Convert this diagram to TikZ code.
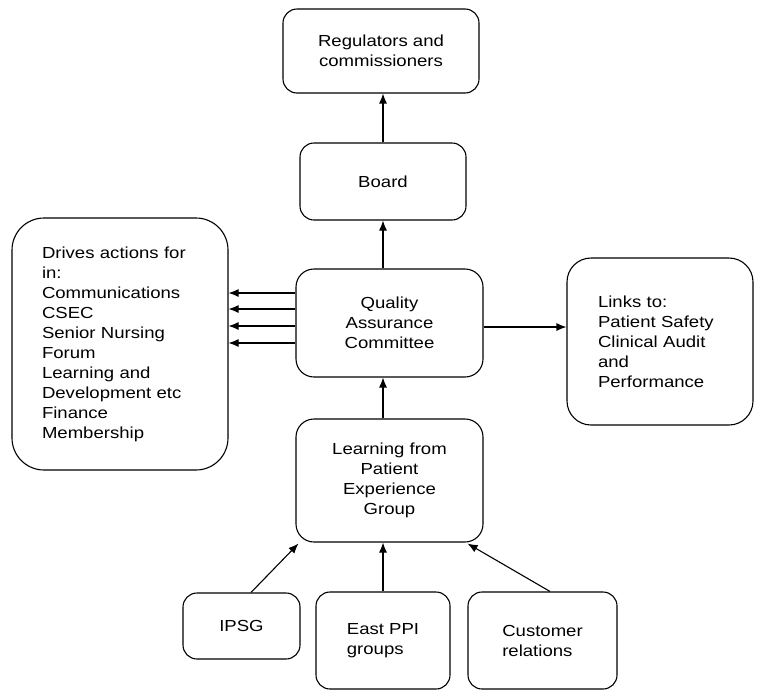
\documentclass[tikz,border=0pt]{standalone}
\usepackage{fontspec}
\setmainfont{Liberation Sans}[FakeStretch=1.16]
\usetikzlibrary{arrows.meta}
\usetikzlibrary{calc}
\tikzset{
  box/.style={draw, line width=1.1pt, rounded corners=14pt, inner sep=0pt, align=center,
    font=\fontsize{16}{20}\selectfont},
  arr/.style={line width=1.1pt, -{Latex[length=10pt,width=8pt]}}
}

\begin{document}
\begin{tikzpicture}[x=1pt,y=-1pt]
    \useasboundingbox (0,0) rectangle (757,691);

    \node[box, minimum width=196pt, minimum height=84pt] (reg) at (381,51) {Regulators and\\commissioners};
    \node[box, minimum width=166pt, minimum height=77pt] (board) at (383,181.5) {Board};
    \node[box, rounded corners=18pt, minimum width=187pt, minimum height=108pt] (qa) at (389.5,323) {Quality\\Assurance\\Committee};
    \node[box, rounded corners=32pt, align=left, text width=156pt, minimum width=216pt, minimum height=252pt] (drives) at (120,344)
      {Drives actions for\\in:\\Communications\\CSEC\\Senior Nursing\\Forum\\Learning and\\Development etc\\Finance\\Membership};
    \node[box, rounded corners=24pt, align=left, text width=124pt, minimum width=186pt, minimum height=167pt] (links) at (660,341.5)
      {Links to:\\Patient Safety\\Clinical Audit\\and\\Performance};
    \node[box, rounded corners=18pt, minimum width=187pt, minimum height=123pt] (lfpe) at (389.5,480.5) {Learning from\\Patient\\Experience\\Group};
    \node[box, minimum width=117pt, minimum height=66pt] (ipsg) at (241.5,626) {IPSG};
    \node[box, align=left, minimum width=134pt, minimum height=97pt] (east) at (383,640.5) {East PPI\\groups};
    \node[box, align=left, minimum width=149pt, minimum height=97pt] (cust) at (542.5,640.5) {Customer\\relations};

    \draw[arr] (board.north) -- (board.north |- reg.south);
    \draw[arr] (board.south |- qa.north) -- (board.south);
    \draw[arr] (board.south |- lfpe.north) -- (board.south |- qa.south);
    \foreach \y in {293,309,326,343}
      \draw[arr] (qa.west |- 0,\y) -- (drives.east |- 0,\y);
    \draw[arr] (qa.east |- 0,327) -- (links.west |- 0,327);

    \draw[arr] ($(ipsg.north)+(9.5,0)$) -- ($(lfpe.south west)+(3,1)$);
    \draw[arr] (east.north) -- (east.north |- lfpe.south);
    \draw[arr] ($(cust.north)+(7.5,0)$) -- ($(lfpe.south east)+(-16,1)$);
\end{tikzpicture}
\end{document}
